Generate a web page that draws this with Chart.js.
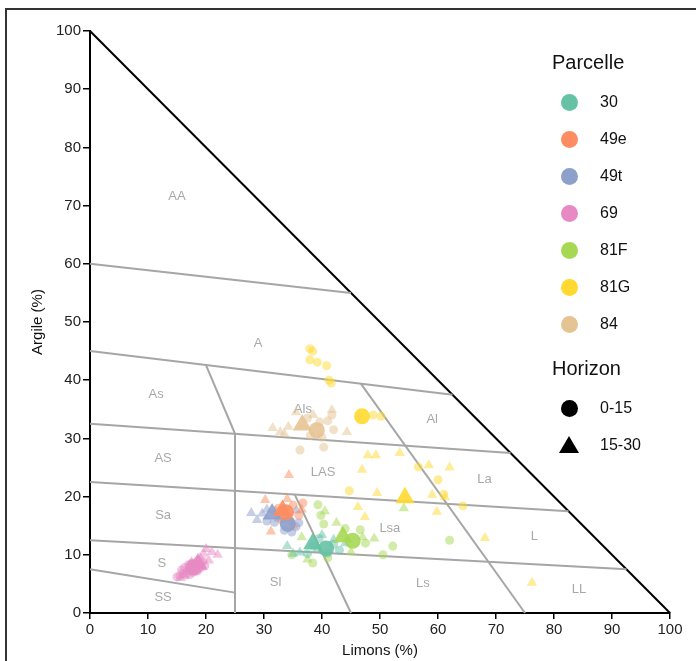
<!DOCTYPE html>
<html>
<head>
<meta charset="utf-8">
<script src="https://cdn.jsdelivr.net/npm/chart.js@4/dist/chart.umd.min.js"></script>
<style>
  html, body { margin: 0; padding: 0; background: #fff; }
  #wrap { position: relative; width: 696px; height: 661px; overflow: hidden;
          font-family: "Liberation Sans", Arial, sans-serif; color: #111; }
  #frame { position: absolute; left: 5px; top: 8px; width: 900px; height: 900px;
           border: 2px solid #333; pointer-events: none; }
  #chart { position: absolute; left: 0; top: 0; }
  .lg-title { position: absolute; font-size: 20px; line-height: 24px; white-space: nowrap; }
  .lg-text { position: absolute; font-size: 16px; line-height: 20px; white-space: nowrap; }
  .lg-dot { position: absolute; width: 17px; height: 17px; border-radius: 50%; }
  .lg-tri { position: absolute; width: 0; height: 0;
            border-left: 10px solid transparent; border-right: 10px solid transparent;
            border-bottom: 17px solid #000; }
</style>
</head>
<body>
<div id="wrap">
  <canvas id="chart" width="696" height="661"></canvas>
  <div id="frame"></div>
  <div id="legend"></div>
</div>
<script>
// Parcels and their colours
const parcelles = ['30', '49e', '49t', '69', '81F', '81G', '84'];
const parcelleColors = ['#66c2a5', '#fc8d62', '#8da0cb', '#e78ac3', '#a6d854', '#ffd92f', '#e5c494'];
const horizons = ['0-15', '15-30'];

// Samples as [limons %, argile %], horizon 0-15 cm (circles) and 15-30 cm (triangles)
const p30_h0 = [[38.5, 11.5], [41, 10.3], [43, 10.8], [39.5, 12.8], [42, 11.8], [37.5, 10.2]];
const p30_h1 = [[34, 11.5], [36.2, 10.4], [42, 12.6], [40, 13.4], [35, 10.2], [39.2, 11], [44, 12]];
const p49e_h0 = [[35, 18.5], [36.7, 18.9], [36, 16.8], [33, 16], [34.5, 15.8], [32.5, 18]];
const p49e_h1 = [[30.2, 19.4], [34, 19.6], [31.2, 14], [34.3, 23.7], [32, 17.5], [36.5, 17.8], [35, 15]];
const p49t_h0 = [[31.8, 15.6], [34.8, 13.9], [35.5, 14.8], [33.5, 14.2], [30.5, 15.8], [36, 15.5]];
const p49t_h1 = [[27.8, 17.2], [29.7, 17.1], [28.8, 16], [30.5, 17.8], [32.5, 16.2], [35.6, 17.6]];
const p69_h0 = [[15, 6.2], [16, 6.8], [16.8, 7.2], [17.5, 7.8], [18.2, 8.2], [19, 8.5], [16.5, 6.5],
                [17.8, 7], [18.8, 7.6], [19.5, 8.9], [17, 8.3], [15.8, 7.4], [15.5, 6.4], [17.2, 6.6],
                [18.5, 7.2], [19.2, 7.9], [17.6, 8.6], [18.6, 9], [16.3, 7.8], [19.8, 8.1]];
const p69_h1 = [[20, 11], [21, 10.5], [22, 10], [17.5, 8.7], [19, 9.5], [16.2, 6.5], [20.5, 9],
                [18, 7.6], [19.6, 10.2], [15.6, 6]];
const p81F_h0 = [[39.3, 18.6], [39.8, 16.8], [40.3, 15.3], [34.8, 10], [38.4, 8.6], [52.2, 11.5],
                 [50.5, 10], [62, 12.5], [46.6, 14.3], [44, 14.5], [41, 9.5], [47.5, 12]];
const p81F_h1 = [[40.5, 17.5], [36.5, 13], [47, 13], [54.1, 18], [42.5, 15.5], [45, 10.5], [37.5, 9.2], [49, 12.8]];
const p81G_h0 = [[37.9, 45.4], [38.4, 45], [37.9, 43.5], [39.2, 43.1], [40.8, 42.5], [41.2, 40], [41.6, 39.5],
                 [48.8, 34], [50.2, 33.8], [56.6, 25.1], [60, 22.9], [61, 20.4], [64.3, 18.4], [44.7, 21]];
const p81G_h1 = [[47.9, 27.1], [49.3, 27.1], [53.4, 27.5], [58.4, 25.4], [46.9, 24.6], [49.5, 20.6], [59, 20.3],
                 [46.2, 18.2], [59.8, 17.4], [47.4, 16.5], [61.2, 19.9], [68.1, 12.9], [76.2, 5.2], [62, 25]];
const p84_h0 = [[36.2, 28], [40.3, 28.5], [39.6, 32.8], [41.7, 34], [41, 33], [38, 30.5], [40, 30.2], [37.5, 33.5], [42, 31.5]];
const p84_h1 = [[32.8, 31.1], [34.2, 32], [44.3, 31.1], [41.7, 34.9], [31.5, 31.8], [35.5, 34.5], [33.5, 30.8], [38.5, 34]];

// Parcel means, same order as parcelles
const means_h0 = [[40.7, 11.1], [33.8, 17.3], [34.1, 15.3], [17.8, 7.8], [45.3, 12.4], [46.9, 33.8], [39.1, 31.4]];
const means_h1 = [[38.4, 11.9], [33.2, 17.6], [31.4, 17.0], [18.6, 8.4], [43.6, 13.1], [54.3, 19.8], [36.6, 32.3]];

// Texture class boundaries (limons, argile)
const boundaries = [
  [[0, 60], [45, 55]],
  [[0, 45], [62.5, 37.5]],
  [[0, 32.5], [72.5, 27.5]],
  [[0, 22.5], [82.5, 17.5]],
  [[0, 12.5], [92.5, 7.5]],
  [[0, 7.5], [25, 3.5]],
  [[25, 0], [25, 30.8]],
  [[20, 42.6], [25, 30.8]],
  [[46.7, 39.4], [75, 0]],
  [[35.3, 20.35], [45, 0]]
];
const hypotenuse = [[0, 100], [100, 0]];

// Texture class names and label positions
const classNames = ['AA', 'A', 'As', 'Als', 'Al', 'AS', 'LAS', 'La', 'Sa', 'Lsa', 'L', 'S', 'Sl', 'Ls', 'LL', 'SS'];
const classX = [15, 29, 11.4, 36.7, 59, 12.6, 40.2, 68, 12.6, 51.7, 76.6, 12.4, 32, 57.4, 84.3, 12.6];
const classY = [71.6, 46.4, 37.6, 35, 33.3, 26.6, 24.2, 23, 16.7, 14.6, 13.1, 8.6, 5.2, 5, 4.1, 2.6];

const samples = [
  [p30_h0, p30_h1], [p49e_h0, p49e_h1], [p49t_h0, p49t_h1], [p69_h0, p69_h1],
  [p81F_h0, p81F_h1], [p81G_h0, p81G_h1], [p84_h0, p84_h1]
];

function rgba(hex, a) {
  const n = parseInt(hex.slice(1), 16);
  return `rgba(${(n >> 16) & 255},${(n >> 8) & 255},${n & 255},${a})`;
}
const toXY = arr => arr.map(p => ({ x: p[0], y: p[1] }));

const datasets = [];
boundaries.forEach(seg => datasets.push({
  type: 'line', data: toXY(seg), borderColor: '#a6a6a6', borderWidth: 2,
  pointRadius: 0, fill: false, clip: false, order: 3
}));
datasets.push({
  type: 'line', data: toXY(hypotenuse), borderColor: '#000', borderWidth: 2,
  pointRadius: 0, fill: false, clip: false, order: 3
});
parcelles.forEach((name, i) => {
  [0, 1].forEach(h => datasets.push({
    type: 'scatter', label: name + ' ' + horizons[h], data: toXY(samples[i][h]),
    pointStyle: h === 0 ? 'circle' : 'triangle',
    pointRadius: h === 0 ? 4.5 : 6,
    backgroundColor: rgba(parcelleColors[i], 0.5), borderWidth: 0, order: 2
  }));
});
parcelles.forEach((name, i) => {
  datasets.push({
    type: 'scatter', label: name + ' moyenne 0-15', data: toXY([means_h0[i]]),
    pointStyle: 'circle', pointRadius: 8,
    backgroundColor: rgba(parcelleColors[i], 0.9), borderWidth: 0, order: 1
  });
  datasets.push({
    type: 'scatter', label: name + ' moyenne 15-30', data: toXY([means_h1[i]]),
    pointStyle: 'triangle', pointRadius: 11,
    backgroundColor: rgba(parcelleColors[i], 0.9), borderWidth: 0, order: 0
  });
});

// Class names written inside the triangle
const classLabels = {
  id: 'classLabels',
  beforeDatasetsDraw(chart) {
    const { ctx, scales: { x, y } } = chart;
    ctx.save();
    ctx.font = '13px "Liberation Sans", Arial, sans-serif';
    ctx.fillStyle = '#a8a8a8';
    ctx.textAlign = 'center';
    ctx.textBaseline = 'middle';
    classNames.forEach((n, i) => ctx.fillText(n, x.getPixelForValue(classX[i]), y.getPixelForValue(classY[i])));
    ctx.restore();
  }
};

const tickFont = { family: '"Liberation Sans", Arial, sans-serif', size: 15 };
const titleFont = { family: '"Liberation Sans", Arial, sans-serif', size: 15 };

new Chart(document.getElementById('chart'), {
  type: 'scatter',
  data: { datasets },
  options: {
    responsive: false,
    animation: false,
    events: [],
    layout: { padding: { top: 31, right: 26, left: 0, bottom: 0 } },
    plugins: { legend: { display: false }, tooltip: { enabled: false } },
    scales: {
      x: {
        type: 'linear', min: 0, max: 100,
        ticks: { stepSize: 10, color: '#222', font: tickFont, padding: 2, maxRotation: 0 },
        grid: { drawOnChartArea: false, drawTicks: true, tickLength: 6, color: '#000', lineWidth: 1.5 },
        border: { display: true, color: '#000', width: 2 },
        title: { display: true, text: 'Limons (%)', color: '#111', font: titleFont, padding: { top: 0, bottom: 1 } },
        afterFit(s) { s.height = 48; }
      },
      y: {
        type: 'linear', min: 0, max: 100,
        ticks: { stepSize: 10, color: '#222', font: tickFont, padding: 2 },
        grid: { drawOnChartArea: false, drawTicks: true, tickLength: 7, color: '#000', lineWidth: 1.5 },
        border: { display: true, color: '#000', width: 2 },
        title: { display: true, text: 'Argile (%)', color: '#111', font: titleFont, padding: { top: 29, bottom: 0 } },
        afterFit(s) { s.width = 90; }
      }
    }
  },
  plugins: [classLabels]
});

// Legend: parcels by colour, horizons by shape
const legend = document.getElementById('legend');
function add(cls, left, top, text, style) {
  const d = document.createElement('div');
  d.className = cls;
  d.style.left = left + 'px';
  d.style.top = top + 'px';
  if (text) d.textContent = text;
  if (style) Object.assign(d.style, style);
  legend.appendChild(d);
}
add('lg-title', 552, 50, 'Parcelle');
parcelles.forEach((name, i) => {
  const cy = 102 + 37 * i;
  add('lg-dot', 561, cy - 8.5, '', { background: parcelleColors[i] });
  add('lg-text', 600, cy - 10, name);
});
add('lg-title', 552, 356, 'Horizon');
add('lg-dot', 561, 408 - 8.5, '', { background: '#000' });
add('lg-text', 600, 398, horizons[0]);
add('lg-tri', 559, 445 - 9, '');
add('lg-text', 600, 435, horizons[1]);
</script>
</body>
</html>
